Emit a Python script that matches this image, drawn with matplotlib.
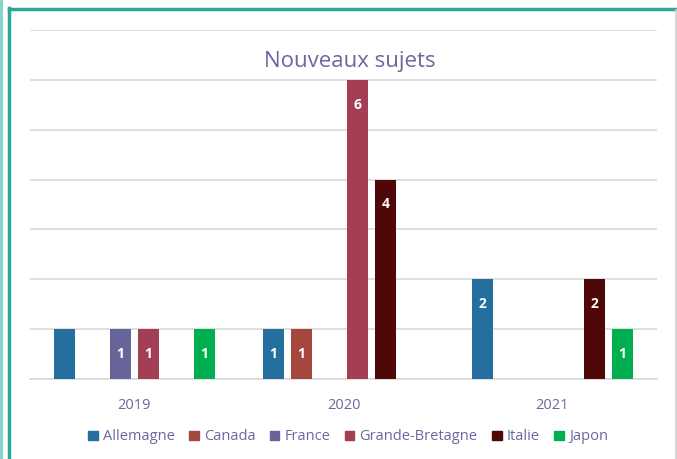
import matplotlib
matplotlib.use("Agg")
import matplotlib.pyplot as plt
import numpy as np
from matplotlib.patches import Rectangle
from matplotlib.lines import Line2D

years = ["2019", "2020", "2021"]
series = ["Allemagne", "Canada", "France", "Grande-Bretagne", "Italie", "Japon"]
allemagne = [1, 1, 2]
canada = [0, 1, 0]
france = [1, 0, 0]
grande_bretagne = [1, 6, 0]
italie = [0, 4, 2]
japon = [1, 0, 1]
# which bars carry a data label (2019 Allemagne has none)
show_label = {
    "Allemagne": [False, True, True],
    "Canada": [True, True, True],
    "France": [True, True, True],
    "Grande-Bretagne": [True, True, True],
    "Italie": [True, True, True],
    "Japon": [True, True, True],
}
values = [allemagne, canada, france, grande_bretagne, italie, japon]
colors = ["#256f9f", "#a5463f", "#67649a", "#a43e55", "#4e0808", "#00b050"]
text_color = "#6a68a0"

plt.rcParams['font.family'] = ['Open Sans', 'DejaVu Sans']

W, H = 677, 459
fig = plt.figure(figsize=(W / 100, H / 100), dpi=100)
ax = fig.add_axes([30 / W, 1 - 379 / H, (657 - 30) / W, (379 - 30) / H])

x = np.arange(len(years))
step = 0.134
width = 0.105
for i, (name, vals, c) in enumerate(zip(series, values, colors)):
    offs = (i - 2.5) * step
    bars = ax.bar(x + offs, vals, width=width, color=c, zorder=3, label=name)
    for j, (b, v) in enumerate(zip(bars, vals)):
        if v > 0 and show_label[name][j]:
            if v == 1:
                y = v / 2
            else:
                y = v - 0.5
            ax.text(b.get_x() + b.get_width() / 2, y, str(v), ha="center", va="center",
                    color="white", fontsize=10, fontweight="bold", zorder=4)

ax.set_xlim(-0.5, 2.5)
ax.set_ylim(0, 7)
ax.set_yticks(range(0, 8))
ax.yaxis.grid(True, color="#d9d9d9", linewidth=1.2, zorder=0)
ax.tick_params(axis="y", left=False, labelleft=False)
ax.tick_params(axis="x", bottom=False, colors=text_color, labelsize=10.5, pad=10)
ax.set_xticks(x)
ax.set_xticklabels(years)
for s in ["top", "right", "left"]:
    ax.spines[s].set_visible(False)
ax.spines["bottom"].set_color("#d9d9d9")
ax.spines["bottom"].set_linewidth(1.2)

fig.text(350 / W, 1 - 62 / H, "Nouveaux sujets", ha="center", va="center",
         color=text_color, fontsize=16)

handles = [Rectangle((0, 0), 1, 1, color=c) for c in colors]
fig.legend(handles, series, loc="center", bbox_to_anchor=(348 / W, 1 - 437 / H),
           ncol=6, frameon=False, fontsize=10.5, labelcolor=text_color,
           handlelength=0.65, handleheight=0.65, handletextpad=0.35, columnspacing=1.0)

# frame decorations
fig.add_artist(Line2D([1 / W, 1 / W], [0, 1], transform=fig.transFigure, color="#7fd0c8", linewidth=2))
fig.add_artist(Line2D([8.5 / W, 8.5 / W], [0, 1 - 8 / H], transform=fig.transFigure, color="#2fa597", linewidth=2.5))
fig.add_artist(Line2D([8.5 / W, 1], [1 - 8.5 / H, 1 - 8.5 / H], transform=fig.transFigure, color="#2fa597", linewidth=2.5))
fig.add_artist(Line2D([675.5 / W, 675.5 / W], [0, 1 - 10 / H], transform=fig.transFigure, color="#d0d0d0", linewidth=1.2))

fig.savefig("out.png", dpi=100)
